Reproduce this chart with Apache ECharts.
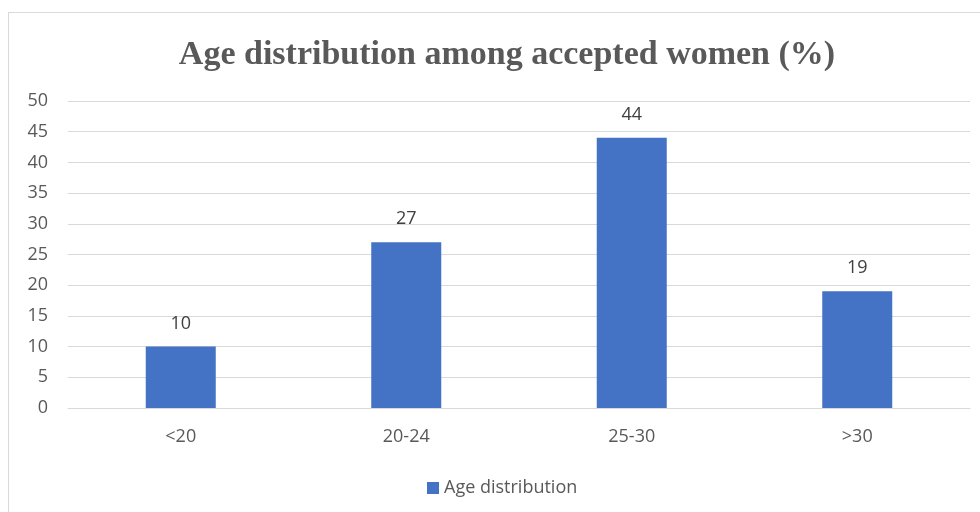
<!DOCTYPE html>
<html>
<head>
<meta charset="utf-8">
<script src="https://cdn.jsdelivr.net/npm/echarts@6/dist/echarts.min.js"></script>
<style>
  html, body { margin: 0; padding: 0; background: #fff; }
  .frame { position: absolute; left: 8px; top: 12px; width: 990px; height: 520px; border: 1px solid #d9d9d9; }
  #chart { position: absolute; left: 0; top: 0; width: 980px; height: 512px; }
</style>
</head>
<body>
<div class="frame"></div>
<div id="chart"></div>
<script>
// 数据
var categories = ["<20", "20-24", "25-30", ">30"];
var values = [10, 27, 44, 19];
var seriesName = "Age distribution";
var titleText = "Age distribution among accepted women (%)";

var myChart = echarts.init(document.getElementById("chart"));
var option = {
  animation: false,
  title: {
    text: titleText,
    left: 502,
    textAlign: "center",
    top: 33,
    textStyle: {
      fontFamily: "Liberation Serif",
      fontWeight: "bold",
      fontSize: 34,
      color: "#595959",
    },
  },
  legend: {
    bottom: 10,
    left: 422,
    itemWidth: 12,
    itemHeight: 12,
    itemGap: 6,
    icon: "rect",
    textStyle: { fontFamily: "Open Sans", fontSize: 18, color: "#595959" },
    data: [seriesName],
  },
  grid: {
    left: 68,
    right: 10,
    top: 101,
    bottom: 104,
  },
  xAxis: {
    type: "category",
    data: categories,
    axisLine: { show: true, lineStyle: { color: "#d9d9d9" } },
    axisTick: { show: false },
    axisLabel: {
      margin: 20,
      fontFamily: "Open Sans",
      fontSize: 18,
      color: "#595959",
    },
  },
  yAxis: {
    type: "value",
    min: 0,
    max: 50,
    interval: 5,
    axisLine: { show: false },
    axisTick: { show: false },
    splitLine: { lineStyle: { color: "#d9d9d9", width: 1 } },
    axisLabel: {
      margin: 20,
      fontFamily: "Open Sans",
      fontSize: 18,
      color: "#595959",
    },
  },
  series: [
    {
      name: seriesName,
      type: "bar",
      data: values,
      barWidth: 70,
      itemStyle: { color: "#4472C4" },
      label: {
        show: true,
        position: "top",
        distance: 14,
        fontFamily: "Open Sans",
        fontSize: 18,
        color: "#404040",
      },
    },
  ],
};
myChart.setOption(option);
</script>
</body>
</html>
